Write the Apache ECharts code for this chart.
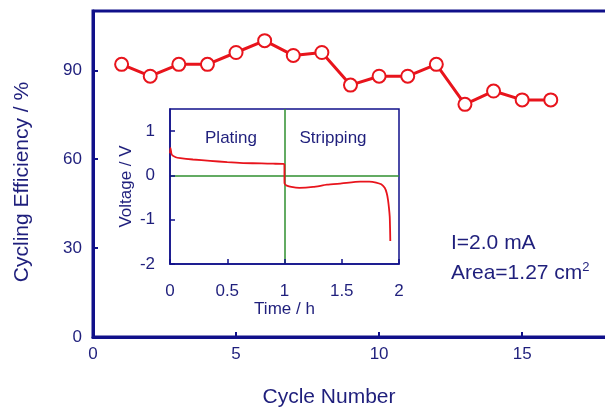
<!DOCTYPE html>
<html>
<head>
<meta charset="utf-8">
<script src="https://cdn.jsdelivr.net/npm/echarts@6/dist/echarts.min.js"></script>
<style>html,body{margin:0;padding:0;background:#fff}#c{width:605px;height:407px}</style>
</head>
<body>
<div id="c"></div>
<script>
// Main chart data
const cycles = [1,2,3,4,5,6,7,8,9,10,11,12,13,14,15,16];
const efficiency = [92,88,92,92,96,100,95,96,85,88,88,92,78.5,83,80,80];
// Inset data (voltage profile)
const timeH = [0,0.004,0.015,0.05,0.09,0.2,0.35,0.5,0.64,0.8,0.9,0.99,0.999,1.0,1.005,1.02,1.06,1.13,1.25,1.37,1.5,1.66,1.74,1.8,1.845,1.875,1.893,1.904,1.913,1.919,1.922,1.924];
const voltage = [0.5,0.62,0.47,0.41,0.39,0.36,0.33,0.3,0.28,0.27,0.265,0.26,0.25,-0.17,-0.2,-0.23,-0.26,-0.28,-0.26,-0.21,-0.18,-0.14,-0.14,-0.16,-0.2,-0.28,-0.4,-0.55,-0.75,-0.93,-1.2,-1.48];
const zeroVoltage = 0;
const switchTime = 1;
const mainXTicks = {min:0, max:19, interval:5};
const mainYTicks = {min:0, max:110, interval:30};
const insetXTicks = {min:0, max:2, interval:0.5};
const insetYTicks = {min:-2, max:1.5, interval:1};

const navy = '#10108a';
const txt = '#1f1f7c';
const red = '#e8141c';
const green = '#2f8f2f';
const ff = "'Liberation Sans', Arial, sans-serif";

const chart = echarts.init(document.getElementById('c'), null, {renderer:'canvas'});
chart.setOption({
  animation:false,
  backgroundColor:'#fff',
  grid:[
    {left:93, top:11, width:543.6, height:326, show:true, borderColor:navy, borderWidth:3, backgroundColor:'transparent', outerBoundsMode:'none', containLabel:false},
    {left:170, top:109, width:229, height:155, show:true, borderColor:navy, borderWidth:1.5, backgroundColor:'#fff', z:5, outerBoundsMode:'none', containLabel:false}
  ],
  xAxis:[
    {gridIndex:0, type:'value', min:mainXTicks.min, max:mainXTicks.max, interval:mainXTicks.interval,
     axisLine:{show:true, onZero:false, lineStyle:{color:navy, width:3}},
     axisTick:{show:true, inside:true, length:5, lineStyle:{color:navy, width:2}},
     axisLabel:{color:txt, fontSize:17, fontFamily:ff, margin:9, showMaxLabel:false},
     splitLine:{show:false}},
    {gridIndex:1, type:'value', min:insetXTicks.min, max:insetXTicks.max, interval:insetXTicks.interval,
     axisLine:{show:true, onZero:false, lineStyle:{color:navy, width:1.5}},
     axisTick:{show:true, inside:true, length:5, lineStyle:{color:navy, width:1.5}},
     axisLabel:{color:txt, fontSize:17, fontFamily:ff, margin:19},
     splitLine:{show:false},
     name:'Time / h', nameLocation:'middle', nameGap:36,
     nameTextStyle:{color:txt, fontSize:17, fontFamily:ff}, z:6}
  ],
  yAxis:[
    {gridIndex:0, type:'value', min:mainYTicks.min, max:mainYTicks.max, interval:mainYTicks.interval,
     axisLine:{show:true, onZero:false, lineStyle:{color:navy, width:3}},
     axisTick:{show:true, inside:true, length:5, lineStyle:{color:navy, width:2}},
     axisLabel:{color:txt, fontSize:17, fontFamily:ff, margin:11, showMaxLabel:false},
     splitLine:{show:false}},
    {gridIndex:1, type:'value', min:insetYTicks.min, max:insetYTicks.max, interval:insetYTicks.interval,
     axisLine:{show:true, onZero:false, lineStyle:{color:navy, width:1.5}},
     axisTick:{show:true, inside:true, length:5, lineStyle:{color:navy, width:1.5}},
     axisLabel:{color:txt, fontSize:17, fontFamily:ff, margin:15, showMaxLabel:false},
     splitLine:{show:false},
     name:'Voltage / V', nameLocation:'middle', nameGap:35, nameRotate:90,
     nameTextStyle:{color:txt, fontSize:17, fontFamily:ff}, z:6}
  ],
  series:[
    {type:'line', xAxisIndex:0, yAxisIndex:0, data:cycles.map((c,i)=>[c, efficiency[i]]),
     lineStyle:{color:red, width:3}, symbol:'circle', symbolSize:13, showSymbol:true,
     itemStyle:{color:'#fff', borderColor:red, borderWidth:2}, z:3},
    {type:'line', xAxisIndex:1, yAxisIndex:1, data:timeH.map((t,i)=>[t, voltage[i]]),
     showSymbol:false, symbol:'none', lineStyle:{color:red, width:1.8}, smooth:0.2, z:8,
     markLine:{silent:true, symbol:'none', label:{show:false},
       lineStyle:{color:green, width:1.5, type:'solid'},
       data:[{yAxis:zeroVoltage},{xAxis:switchTime}]}}
  ],
  graphic:[
    {type:'text', x:231, y:138, z:100, style:{text:'Plating', fill:txt, font:"17px "+ff, textAlign:'center', textVerticalAlign:'middle'}},
    {type:'text', x:333, y:138, z:100, style:{text:'Stripping', fill:txt, font:"17px "+ff, textAlign:'center', textVerticalAlign:'middle'}},
    {type:'text', x:451, y:243, z:100, style:{text:'I=2.0 mA', fill:txt, font:"21px "+ff, textAlign:'left', textVerticalAlign:'middle'}},
    {type:'text', x:451, y:273, z:100, style:{text:'Area=1.27 cm{sup|2}', fill:txt, font:"21px "+ff, textAlign:'left', textVerticalAlign:'middle',
      rich:{sup:{fontSize:13, fontFamily:ff, fill:txt, verticalAlign:'top', padding:[0,0,12,0]}}}},
    {type:'text', x:329, y:397, z:100, style:{text:'Cycle Number', fill:txt, font:"21px "+ff, textAlign:'center', textVerticalAlign:'middle'}},
    {type:'text', x:22, y:182, rotation:Math.PI/2, z:100, style:{text:'Cycling Efficiency / %', fill:txt, font:"21px "+ff, textAlign:'center', textVerticalAlign:'middle'}}
  ]
});
</script>
</body>
</html>
